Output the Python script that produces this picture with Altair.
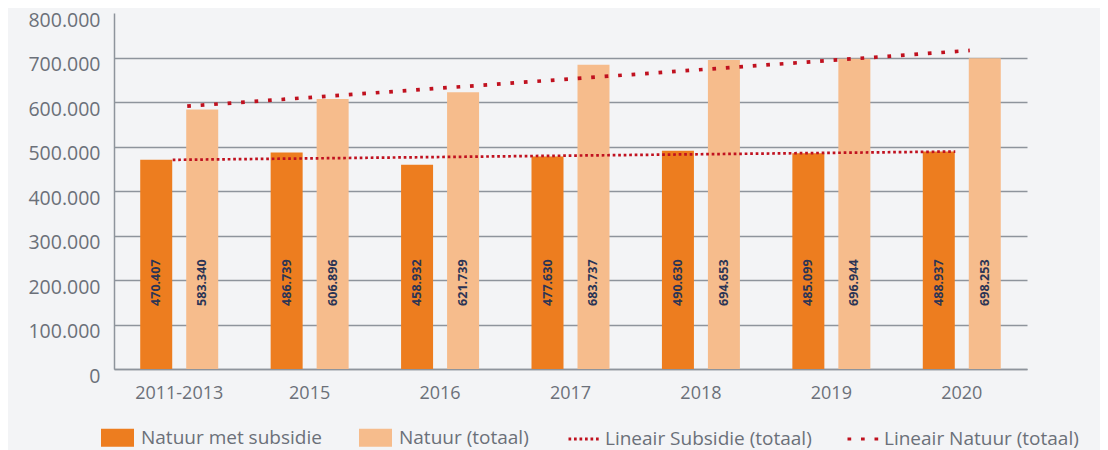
import altair as alt
import pandas as pd

categories = ["2011-2013", "2015", "2016", "2017", "2018", "2019", "2020"]
subsidie = [470407, 486739, 458932, 477630, 490630, 485099, 488937]
totaal = [583340, 606896, 621739, 683737, 694653, 696944, 698253]
series_names = ["Natuur met subsidie", "Natuur (totaal)"]
bar_colors = ["#ed7d1f", "#f6bc8c"]

trend_names = ["Lineair Subsidie (totaal)", "Lineair Natuur (totaal)"]
trend_x = ["2011-2013", "2020"]
trend_subsidie = [470000, 488700]
trend_natuur = [590600, 715800]

y_ticks = [0, 100000, 200000, 300000, 400000, 500000, 600000, 700000, 800000]
label_y = 194000


def fmt(v):
    return f"{v:,}".replace(",", ".")


rows = []
for c, s, t in zip(categories, subsidie, totaal):
    rows.append({"cat": c, "series": series_names[0], "value": s, "label": fmt(s)})
    rows.append({"cat": c, "series": series_names[1], "value": t, "label": fmt(t)})
bars_df = pd.DataFrame(rows)

trend_sub_df = pd.DataFrame({"cat": trend_x, "value": trend_subsidie, "trend": trend_names[0]})
trend_nat_df = pd.DataFrame({"cat": trend_x, "value": trend_natuur, "trend": trend_names[1]})

FONT = "Open Sans"
GRAY = "#6b7079"
RED = "#c0111f"

x_enc = alt.X(
    "cat:N",
    sort=categories,
    scale=alt.Scale(domain=categories, paddingInner=0, paddingOuter=0),
    axis=alt.Axis(
        title=None, labelAngle=0, labelFont=FONT, labelFontSize=18, labelColor=GRAY,
        labelPadding=15, ticks=False, domainColor="#8e949c", domainWidth=1.5, grid=False,
    ),
)
y_enc = alt.Y(
    "value:Q",
    scale=alt.Scale(domain=[0, 800000], nice=False),
    axis=alt.Axis(
        title=None, values=y_ticks, labelExpr="replace(format(datum.value, ','), ',', '.')",
        labelFont=FONT, labelFontSize=19.5, labelColor=GRAY, labelPadding=14, labelOffset=7,
        ticks=False, domainColor="#8e949c", domainWidth=1.5,
        gridColor="#8e949c", gridWidth=1.5,
        gridOpacity={"condition": {"test": "datum.value == 800000", "value": 0}, "value": 1},
    ),
)
xoff = alt.XOffset(
    "series:N",
    sort=series_names,
    scale=alt.Scale(domain=series_names, paddingInner=0.3043, paddingOuter=0.57),
)

bars = alt.Chart(bars_df).mark_bar().encode(
    x=x_enc,
    y=y_enc,
    xOffset=xoff,
    color=alt.Color(
        "series:N",
        scale=alt.Scale(domain=series_names, range=bar_colors),
        legend=alt.Legend(
            title=None, orient="none", legendX=-13, legendY=408, direction="horizontal",
            symbolType="M-1,-0.545H1V0.545H-1Z", symbolSize=1089, symbolStrokeWidth=0,
            labelOffset=7, columnPadding=37, padding=0, labelLimit=400,
            labelFont=FONT, labelFontSize=19, labelColor=GRAY,
        ),
    ),
)

texts = alt.Chart(bars_df).mark_text(
    angle=270, font=FONT, fontWeight="bold", fontSize=12.5, color="#2b3455",
    align="center", baseline="middle",
).encode(
    x=alt.X("cat:N", sort=categories),
    xOffset=alt.XOffset("series:N", sort=series_names),
    y=alt.datum(label_y),
    text="label:N",
)

dash_scale = alt.Scale(domain=trend_names, range=[[2.7, 2.8], [3.7, 9.8]])
line_legend = alt.Legend(
    title=None, orient="none", legendX=453, legendY=408, direction="horizontal",
    symbolType="stroke", symbolSize=1089, symbolStrokeColor=RED, symbolStrokeWidth=3,
    labelOffset=2, columnPadding=29, padding=0, labelLimit=400,
    labelFont=FONT, labelFontSize=19, labelColor=GRAY,
)

trend_sub = alt.Chart(trend_sub_df).mark_line(color=RED, strokeWidth=2.7, xOffset=-6.5).encode(
    x=alt.X("cat:N", sort=categories),
    y="value:Q",
    strokeDash=alt.StrokeDash("trend:N", scale=dash_scale, legend=line_legend),
)
trend_nat = alt.Chart(trend_nat_df).mark_line(color=RED, strokeWidth=3.7, xOffset=8).encode(
    x=alt.X("cat:N", sort=categories),
    y="value:Q",
    strokeDash=alt.StrokeDash("trend:N", scale=dash_scale, legend=line_legend),
)

chart = alt.layer(bars, texts, trend_sub, trend_nat).properties(
    width=913,
    height=356,
    autosize=alt.AutoSizeParams(type="none"),
    padding={"left": 106, "top": 5, "right": 73, "bottom": 81},
    background="#f3f4f6",
).configure_view(stroke=None)

chart.save("out.html", embed_options={"renderer": "svg", "actions": False})
